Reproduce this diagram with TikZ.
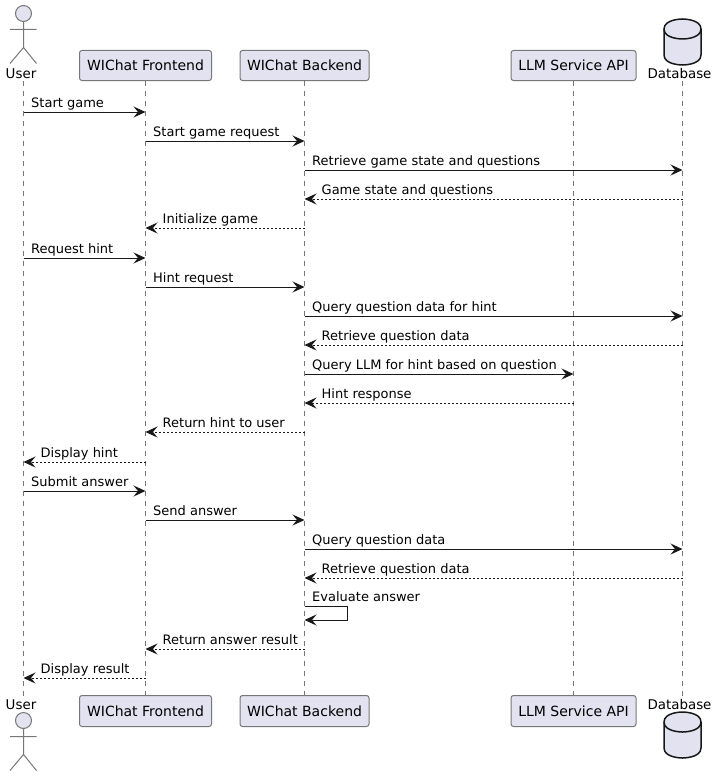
\documentclass[tikz,border=0pt]{standalone}
\usepackage{fontspec}
\setmainfont{DejaVu Sans}
\usetikzlibrary{arrows.meta,backgrounds}
\definecolor{partfill}{HTML}{E2E2F0}
\definecolor{partline}{HTML}{181818}
\definecolor{softline}{HTML}{777777}
\tikzset{
  part/.style={draw=softline, fill=partfill, line width=1pt, rounded corners=2.5pt, inner sep=0pt,
               minimum height=30pt, font=\fontsize{14}{16}\selectfont},
  actorname/.style={inner sep=0pt, anchor=base, font=\fontsize{13.4}{16}\selectfont},
  actorline/.style={draw=softline, fill=partfill, line width=1pt},
  dbline/.style={draw=partline, fill=partfill, line width=1.5pt},
  life/.style={draw=softline, line width=1pt, dash pattern=on 5pt off 5pt},
  call/.style={draw=partline, line width=1pt, -{Stealth[length=12pt, width=11pt, inset=4.5pt]}},
  reply/.style={call, dash pattern=on 2pt off 2pt},
  msg/.style={inner sep=0pt, anchor=base west, font=\fontsize{13}{15}\selectfont}
}
% stick figure: #1 = y of head centre
\newcommand{\actorfig}[1]{
  \draw[actorline] (23.5,#1) circle[radius=8pt];
  \draw[actorline, fill=none] (23.5,#1+8) -- (23.5,#1+34)
    (10,#1+16) -- (36.5,#1+16)
    (10,#1+50) -- (23.5,#1+34) -- (36.5,#1+50);
}
% database can: #1 = y of top edge
\newcommand{\dbfig}[1]{
  \draw[dbline] (664,#1+10) .. controls (664,#1) and (682.5,#1) .. (682.5,#1)
    .. controls (682.5,#1) and (701,#1) .. (701,#1+10) -- (701,#1+36)
    .. controls (701,#1+46) and (682.5,#1+46) .. (682.5,#1+46)
    .. controls (682.5,#1+46) and (664,#1+46) .. (664,#1+36) -- cycle;
  \draw[dbline, fill=none] (664,#1+10) .. controls (664,#1+20) and (682.5,#1+20) .. (682.5,#1+20)
    .. controls (682.5,#1+20) and (701,#1+20) .. (701,#1+10);
}
\begin{document}
\begin{tikzpicture}[x=1pt, y=-1pt]
\useasboundingbox (0,0) rectangle (719,776);

\coordinate (user) at (23.5,81);
\coordinate (db) at (682.5,81);
\coordinate (userb) at (23.5,696);
\coordinate (dbb) at (682.5,696);

\node[actorname] (usertxt) at (21,78) {User};
\node[part, minimum width=132pt] (fe) at (145.5,65.5) {WIChat Frontend};
\node[part, minimum width=129pt] (be) at (304.5,65.5) {WIChat Backend};
\node[part, minimum width=125pt] (llm) at (573.5,65.5) {LLM Service API};
\node[actorname] (dbtxt) at (679.5,78) {Database};

\node[actorname] (userbtxt) at (21,709) {User};
\node[part, minimum width=132pt, minimum height=31pt] (feb) at (145.5,711) {WIChat Frontend};
\node[part, minimum width=129pt, minimum height=31pt] (beb) at (304.5,711) {WIChat Backend};
\node[part, minimum width=125pt, minimum height=31pt] (llmb) at (573.5,711) {LLM Service API};
\node[actorname] (dbbtxt) at (679.5,709) {Database};

\actorfig{13.5}
\actorfig{720.5}
\dbfig{19}
\dbfig{712}

\begin{pgfonlayer}{background}
\foreach \upper/\lower in {user/userb, fe/feb, be/beb, llm/llmb, db/dbb}
  \draw[life] (\upper) -- (\lower);
\end{pgfonlayer}

% calls
\foreach \ya/\src/\dst/\txt in {112/user/fe/Start game, 141/fe/be/Start game request,
    170/be/db/Retrieve game state and questions, 258/user/fe/Request hint, 287/fe/be/Hint request,
    316/be/db/Query question data for hint, 374/be/llm/Query LLM for hint based on question,
    491/user/fe/Submit answer, 520/fe/be/Send answer, 549/be/db/Query question data} {
  \draw[call] (\src |- 0,\ya) -- (\dst |- 0,\ya);
  \node[msg, xshift=7.5pt] (m\ya) at (\src |- 0,\ya-4.5) {\txt};
}
% replies
\foreach \ya/\src/\dst/\txt in {199/db/be/Game state and questions, 228/be/fe/Initialize game,
    345/db/be/Retrieve question data, 403/llm/be/Hint response, 432/be/fe/Return hint to user,
    462/fe/user/Display hint, 578/db/be/Retrieve question data, 649/be/fe/Return answer result,
    678/fe/user/Display result} {
  \draw[reply] (\src |- 0,\ya) -- (\dst |- 0,\ya);
  \node[msg, xshift=17pt] (m\ya) at (\dst |- 0,\ya-4.5) {\txt};
}
% self call
\coordinate (selfa) at (be |- 0,606);
\coordinate (selfb) at (be |- 0,620);
\draw[call] (selfa) -- +(43,0) |- (selfb);
\node[msg, xshift=7.5pt] (m606) at (be |- 0,601.5) {Evaluate answer};
\end{tikzpicture}
\end{document}
